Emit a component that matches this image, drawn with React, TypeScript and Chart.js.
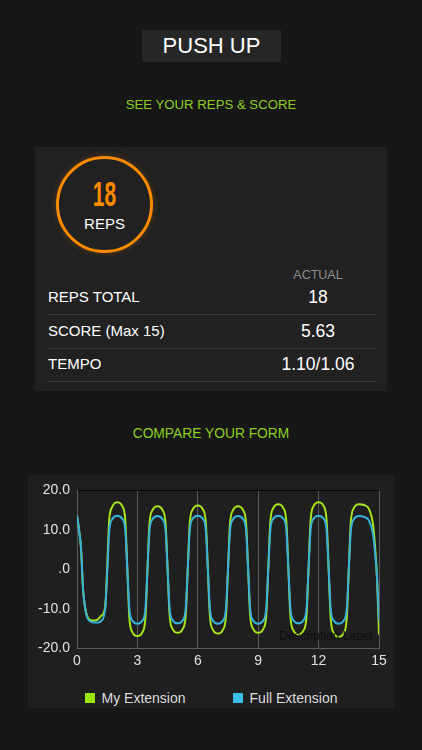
import React, { useEffect, useRef } from 'react';
import { Chart, registerables } from 'chart.js';

Chart.register(...registerables);

const FONT = 'Arial, "Liberation Sans", sans-serif';

// time axis (s) shared by both series
const X_VALUES = [
  0, 0.1, 0.2, 0.3, 0.4, 0.5, 0.75, 1, 1.2, 1.4, 1.5, 1.6, 1.75, 2,
  2.25, 2.4, 2.5, 2.6, 2.75, 3,
  3.25, 3.4, 3.5, 3.6, 3.75, 4,
  4.25, 4.4, 4.5, 4.6, 4.75, 5,
  5.25, 5.4, 5.5, 5.6, 5.75, 6,
  6.25, 6.4, 6.5, 6.6, 6.75, 7,
  7.25, 7.4, 7.5, 7.6, 7.75, 8,
  8.25, 8.4, 8.5, 8.6, 8.75, 9,
  9.25, 9.4, 9.5, 9.6, 9.75, 10,
  10.25, 10.4, 10.5, 10.6, 10.75, 11,
  11.25, 11.4, 11.5, 11.6, 11.75, 12,
  12.25, 12.4, 12.5, 12.6, 12.75, 13,
  13.25, 13.4, 13.5, 13.6, 13.75, 14,
  14.25, 14.5, 14.7, 14.8, 14.9, 15,
];

const MY_EXTENSION = [
  13.5, 10.0, 5.3, -5.0, -9.6, -11.8, -13.0, -12.8, -11.8, -9.5, 0.5, 12.5, 15.8, 17.0,
  16.0, 12.2, 0.0, -12.2, -15.9, -16.9,
  -15.9, -12.2, 0.0, 11.5, 15.0, 16.0,
  15.0, 11.5, 0.0, -11.6, -15.1, -16.1,
  -15.1, -11.6, 0.0, 11.7, 15.2, 16.2,
  15.2, 11.7, 0.0, -11.7, -15.3, -16.3,
  -15.3, -11.7, 0.0, 11.5, 15.0, 16.0,
  15.0, 11.5, 0.0, -11.6, -15.1, -16.1,
  -15.1, -11.6, 0.0, 11.9, 15.5, 16.5,
  15.5, 11.9, 0.0, -11.9, -15.5, -16.5,
  -15.5, -11.9, 0.0, 12.2, 16.0, 17.0,
  16.0, 12.2, 0.0, -12.3, -16.1, -17.1,
  -16.1, -12.3, 0.0, 11.9, 15.5, 16.5,
  16.3, 15.3, 11.5, 6.0, -2.0, -16.5,
];

const FULL_EXTENSION = [
  13.7, 10.1, 5.4, -5.0, -9.7, -12.1, -13.4, -13.5, -13.1, -10.0, -1.0, 9.5, 12.7, 13.6,
  12.8, 9.8, 0.0, -9.9, -13.0, -13.8,
  -13.0, -9.9, 0.0, 9.7, 12.7, 13.5,
  12.7, 9.7, 0.0, -9.9, -12.9, -13.7,
  -12.9, -9.9, 0.0, 9.8, 12.8, 13.6,
  12.8, 9.8, 0.0, -9.9, -13.0, -13.8,
  -13.0, -9.9, 0.0, 9.7, 12.7, 13.5,
  12.7, 9.7, 0.0, -9.9, -13.0, -13.8,
  -13.0, -9.9, 0.0, 9.8, 12.8, 13.6,
  12.8, 9.8, 0.0, -9.9, -12.9, -13.7,
  -12.9, -9.9, 0.0, 9.8, 12.8, 13.6,
  12.8, 9.8, 0.0, -9.9, -13.0, -13.8,
  -13.0, -9.9, 0.0, 9.7, 12.7, 13.5,
  13.3, 12.4, 9.0, 4.5, -2.0, -13.0,
];

const X_MIN = 0;
const X_MAX = 15;
const X_STEP = 3;
const Y_MIN = -20;
const Y_MAX = 20;
const Y_STEP = 10;

const SERIES_NAMES = ['My Extension', 'Full Extension'];
const SERIES_COLORS = ['#a6e41c', '#36b2da'];
const LEGEND_COLORS = ['#9be60a', '#3cbfe6'];

const ROW_LABELS = ['REPS TOTAL', 'SCORE (Max 15)', 'TEMPO'];
const ROW_VALUES = ['18', '5.63', '1.10/1.06'];
const REPS = '18';

const GREEN_TEXT = '#8ccf22';

// draws the small dark "Description Label" at the bottom right of the plot
const descriptionPlugin = {
  id: 'descriptionLabel',
  afterDraw(chart: any) {
    const { ctx, chartArea } = chart;
    ctx.save();
    ctx.font = `12px ${FONT}`;
    ctx.fillStyle = '#0e0e0e';
    ctx.textAlign = 'right';
    ctx.textBaseline = 'middle';
    ctx.fillText('Description Label', chartArea.right - 7, chartArea.bottom - 12);
    ctx.restore();
  },
};

const FormChart = () => {
  const chartRef = useRef<HTMLCanvasElement | null>(null);
  const chartInstance = useRef<Chart | null>(null);

  useEffect(() => {
    if (!chartRef.current) return;
    if (chartInstance.current) chartInstance.current.destroy();

    const toPoints = (ys: number[]) => X_VALUES.map((x, i) => ({ x, y: ys[i] }));

    chartInstance.current = new Chart(chartRef.current, {
      type: 'line',
      data: {
        datasets: [
          {
            label: SERIES_NAMES[0],
            data: toPoints(MY_EXTENSION),
            borderColor: SERIES_COLORS[0],
            borderWidth: 2,
            pointRadius: 0,
            cubicInterpolationMode: 'monotone',
            fill: false,
            order: 1,
          },
          {
            label: SERIES_NAMES[1],
            data: toPoints(FULL_EXTENSION),
            borderColor: SERIES_COLORS[1],
            borderWidth: 2,
            pointRadius: 0,
            cubicInterpolationMode: 'monotone',
            fill: false,
            order: 0,
          },
        ],
      },
      options: {
        animation: false,
        responsive: true,
        maintainAspectRatio: false,
        layout: { padding: { left: 0, right: 15, top: 10, bottom: 2 } },
        plugins: {
          legend: { display: false },
          tooltip: { enabled: false },
        },
        scales: {
          x: {
            type: 'linear',
            min: X_MIN,
            max: X_MAX,
            ticks: {
              stepSize: X_STEP,
              color: '#e2e2e2',
              padding: 5,
              maxRotation: 0,
              font: { family: FONT, size: 14 },
            },
            grid: { color: '#5a5a5a', lineWidth: 1, drawTicks: false },
            border: { display: true, color: '#5a5a5a' },
          },
          y: {
            min: Y_MIN,
            max: Y_MAX,
            afterFit: (scale: any) => {
              scale.width = 49;
            },
            ticks: {
              stepSize: Y_STEP,
              color: '#e2e2e2',
              padding: 7,
              font: { family: FONT, size: 14 },
              callback: (v: any) => (Number(v) === 0 ? '.0' : Number(v).toFixed(1)),
            },
            grid: {
              drawTicks: false,
              color: (ctx: any) => (ctx.tick && ctx.tick.value === Y_MAX ? '#050505' : 'rgba(0,0,0,0)'),
            },
            border: { display: true, color: '#5a5a5a' },
          },
        },
      },
      plugins: [descriptionPlugin],
    } as any);

    return () => {
      if (chartInstance.current) {
        chartInstance.current.destroy();
        chartInstance.current = null;
      }
    };
  }, []);

  return (
    <div style={{ position: 'absolute', left: 0, top: 0, width: 366, height: 202 }}>
      <canvas ref={chartRef} />
    </div>
  );
};

const App = () => {
  const centerRow = (cy: number, h: number) => ({ position: 'absolute' as const, top: cy - h / 2, height: h, lineHeight: `${h}px` });

  return (
    <div
      style={{
        position: 'absolute',
        left: 0,
        top: 0,
        width: 422,
        height: 750,
        overflow: 'hidden',
        background: '#171717',
        fontFamily: FONT,
        color: '#fff',
      }}
    >
      <div
        style={{
          position: 'absolute',
          left: 142,
          top: 30,
          width: 139,
          height: 32,
          lineHeight: '32px',
          background: '#262626',
          fontSize: 22,
          textAlign: 'center',
        }}
      >
        PUSH UP
      </div>

      <div style={{ ...centerRow(105, 20), left: 0, width: 422, textAlign: 'center', fontSize: 13.2, color: GREEN_TEXT }}>
        SEE YOUR REPS &amp; SCORE
      </div>

      {/* reps / score card */}
      <div style={{ position: 'absolute', left: 35, top: 147, width: 352, height: 244, background: '#212121' }}>
        <div
          style={{
            position: 'absolute',
            left: 21,
            top: 9,
            width: 97,
            height: 97,
            boxSizing: 'border-box',
            border: '3.5px solid #ff8a00',
            borderRadius: '50%',
            boxShadow: '0 0 6px rgba(255,138,0,0.25)',
          }}
        />
        <div style={{ ...centerRow(47, 40), left: 21, width: 97, textAlign: 'center' }}>
          <span
            style={{
              display: 'inline-block',
              fontSize: 35,
              fontWeight: 'bold',
              color: '#ff8a00',
              transform: 'scaleX(0.6)',
            }}
          >
            {REPS}
          </span>
        </div>
        <div style={{ ...centerRow(76.5, 20), left: 21, width: 97, textAlign: 'center', fontSize: 15 }}>REPS</div>

        <div style={{ ...centerRow(128, 16), left: 233, width: 100, textAlign: 'center', fontSize: 12.5, color: '#8e8e8e' }}>
          ACTUAL
        </div>

        {ROW_LABELS.map((label, i) => {
          const cy = 150 + i * 33.5;
          return (
            <React.Fragment key={label}>
              <div style={{ ...centerRow(cy, 20), left: 13, fontSize: 15 }}>{label}</div>
              <div style={{ ...centerRow(cy, 22), left: 213, width: 140, textAlign: 'center', fontSize: 17.5 }}>
                {ROW_VALUES[i]}
              </div>
              <div style={{ position: 'absolute', left: 13, top: cy + 17, width: 329, height: 1, background: '#383838' }} />
            </React.Fragment>
          );
        })}
      </div>

      <div style={{ ...centerRow(434, 20), left: 0, width: 422, textAlign: 'center', fontSize: 13.8, color: GREEN_TEXT }}>
        COMPARE YOUR FORM
      </div>

      {/* chart card */}
      <div style={{ position: 'absolute', left: 28, top: 475, width: 366, height: 233, background: '#1f1f1f' }}>
        <FormChart />
        <div
          style={{
            ...centerRow(223, 20),
            left: 0,
            width: 366,
            display: 'flex',
            justifyContent: 'center',
            alignItems: 'center',
            gap: 47,
            fontSize: 14,
            color: '#dcdcdc',
          }}
        >
          {SERIES_NAMES.map((name, i) => (
            <div key={name} style={{ display: 'flex', alignItems: 'center' }}>
              <span style={{ display: 'inline-block', width: 10, height: 10, background: LEGEND_COLORS[i], marginRight: 7 }} />
              <span>{name}</span>
            </div>
          ))}
        </div>
      </div>
    </div>
  );
};

export default App;
